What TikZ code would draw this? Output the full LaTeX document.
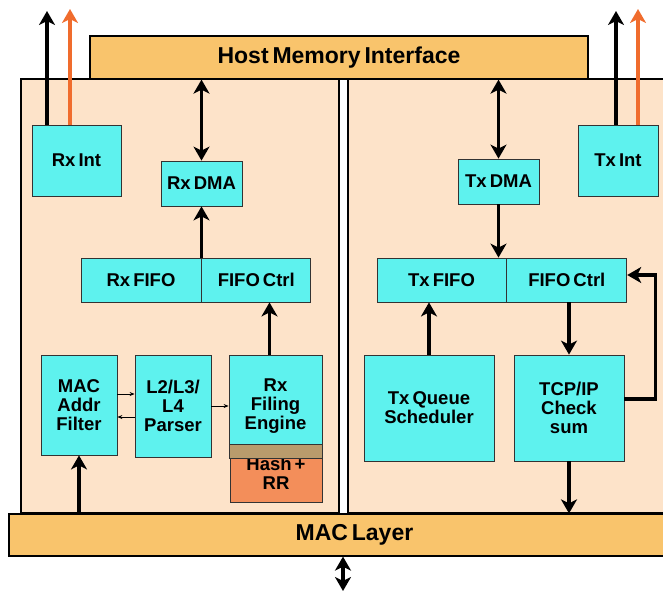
\documentclass[tikz,border=0pt]{standalone}
\usepackage{fontspec}
\setmainfont{Liberation Sans}[WordSpace=0.6]
\usepackage{tikz}
\usetikzlibrary{arrows.meta, positioning, calc}
\definecolor{boxcyan}{RGB}{94,242,238}
\definecolor{panelpeach}{RGB}{253,227,201}
\definecolor{barorange}{RGB}{249,196,108}
\definecolor{hashorange}{RGB}{243,142,90}
\definecolor{bandtan}{RGB}{185,155,108}
\definecolor{arroworange}{RGB}{240,108,45}

\begin{document}
\begin{tikzpicture}[x=1pt, y=-1pt,
    block/.style={rectangle, draw=black!80, fill=boxcyan, line width=0.8pt,
                  inner sep=1pt, align=center,
                  font=\fontsize{18.5}{19}\selectfont\bfseries},
    panel/.style={rectangle, draw=black, fill=panelpeach, line width=1.2pt,
                  inner sep=0pt},
    bar/.style={rectangle, draw=black, fill=barorange, line width=1.2pt,
                font=\fontsize{23}{26}\selectfont\bfseries},
    arrow/.style={-{Stealth[length=14pt, width=16pt, inset=4pt]}, line width=3.5pt},
    darrow/.style={{Stealth[length=14pt, width=16pt, inset=4pt]}-{Stealth[length=14pt, width=16pt, inset=4pt]},
                   line width=3.5pt},
    smallarrow/.style={-{Stealth[length=5pt, width=4pt]}, line width=0.7pt}
]
\useasboundingbox (0,0) rectangle (663,592);
\clip (0,0) rectangle (663,592);

% panels and bars
\node[panel, minimum width=318pt, minimum height=434pt] (rxpanel) at (180,296) {};
\node[panel, minimum width=352pt, minimum height=434pt] (txpanel) at (524,296) {};
\node[bar, minimum width=498pt, minimum height=43pt] (host) at (339,57.5) {Host Memory Interface};
\node[bar, minimum width=691pt, minimum height=42pt] (mac) at (354.5,535) {MAC Layer};

% Rx side
\node[block, minimum width=89pt, minimum height=71pt] (rxint) at (76.5,160.5) {Rx Int};
\node[block, minimum width=81pt, minimum height=45pt] (rxdma) at (201.5,183.5) {Rx DMA};
\node[block, minimum width=120pt, minimum height=44pt] (rxfifo) at (141,280) {Rx FIFO};
\node[block, minimum width=109pt, minimum height=44pt, right=0pt of rxfifo] (rxctrl) {FIFO Ctrl};
\node[block, minimum width=76pt, minimum height=100pt] (macfilter) at (79,405) {MAC\\Addr\\Filter};
\node[block, minimum width=76pt, minimum height=102pt] (parser) at (173,406) {L2/L3/\\L4\\Parser};
\node[block, minimum width=93pt, minimum height=103pt] (filing) at (275.5,406.5) {Rx\\Filing\\Engine};
\node[block, fill=hashorange, minimum width=92pt, minimum height=57pt] (hash) at (276,473.5) {\\[-6pt]Hash +\\RR};
\filldraw[fill=bandtan, draw=black!80, line width=0.8pt] (hash.north west) rectangle (hash.east |- filing.south);

% Tx side
\node[block, minimum width=80pt, minimum height=71pt] (txint) at (618,160.5) {Tx Int};
\node[block, minimum width=81pt, minimum height=45pt] (txdma) at (498.5,181.5) {Tx DMA};
\node[block, minimum width=129pt, minimum height=44pt] (txfifo) at (441.5,280) {Tx FIFO};
\node[block, minimum width=120pt, minimum height=44pt, right=0pt of txfifo] (txctrl) {FIFO Ctrl};
\node[block, minimum width=130pt, minimum height=106pt] (txqueue) at (429,408) {Tx Queue\\Scheduler};
\node[block, minimum width=110pt, minimum height=106pt] (tcp) at (569,408) {TCP/IP\\Check\\sum};

% free ends
\coordinate (rxup1) at (47,11);
\coordinate (rxup2) at (70,9);
\coordinate (txup1) at (616,11);
\coordinate (txup2) at (638,9);
\coordinate (macdown) at (343,591);

% Rx arrows
\draw[arrow] (rxint.north -| rxup1) -- (rxup1);
\draw[arrow, arroworange] (rxint.north -| rxup2) -- (rxup2);
\draw[darrow] (rxdma.north |- host.south) -- (rxdma.north);
\draw[arrow] (rxdma.south |- rxfifo.north) -- (rxdma.south);
\draw[arrow] ([xshift=-6pt]filing.north) -- ([xshift=-6pt]filing.north |- rxctrl.south);
\draw[arrow] (macfilter.south |- mac.north) -- (macfilter.south);
\draw[smallarrow] ([yshift=11pt]macfilter.east) -- ([yshift=11pt]macfilter.east -| parser.west);
\draw[smallarrow] ([yshift=-11pt]parser.west) -- ([yshift=-11pt]parser.west -| macfilter.east);
\draw[smallarrow] (parser.east) -- (parser.east -| filing.west);

% Tx arrows
\draw[arrow] (txint.north -| txup1) -- (txup1);
\draw[arrow, arroworange] (txint.north -| txup2) -- (txup2);
\draw[darrow] (txdma.north |- host.south) -- (txdma.north);
\draw[arrow] (txdma.south) -- (txdma.south |- txfifo.north);
\draw[arrow] (txqueue.north) -- (txqueue.north |- txfifo.south);
\draw[arrow] (tcp.north |- txctrl.south) -- (tcp.north);
\draw[arrow] (tcp.south) -- (tcp.south |- mac.north);
\draw[arrow] ([yshift=9pt]tcp.east) -- ++(31,0) |- ([yshift=5pt]txctrl.east);

\draw[darrow] (mac.south -| macdown) -- (macdown);
\end{tikzpicture}
\end{document}
